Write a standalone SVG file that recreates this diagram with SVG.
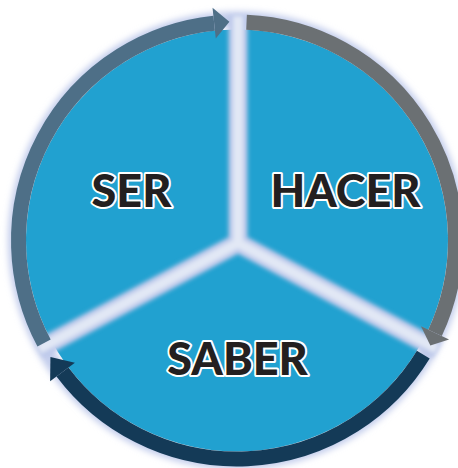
<svg xmlns="http://www.w3.org/2000/svg" width="458" height="468" viewBox="0 0 458 468">
  <defs>
    <filter id="blur3" x="-20%" y="-20%" width="140%" height="140%">
      <feGaussianBlur stdDeviation="3"/>
    </filter>
    <filter id="blur2" x="-20%" y="-20%" width="140%" height="140%">
      <feGaussianBlur stdDeviation="2"/>
    </filter>
    <style>
      .sector { fill: #21a1d0; }
      .label { font-family: Lato, "Open Sans", "Liberation Sans", sans-serif; font-weight: 900; font-size: 45px; fill: #231f20; stroke: #ffffff; stroke-width: 4; stroke-linejoin: round; paint-order: stroke; text-anchor: middle; }
      .band { fill: none; stroke-width: 15; stroke-linecap: butt; }
    </style>
  </defs>
  <rect width="458" height="468" fill="#ffffff"/>
  <!-- outer glow -->
  <circle cx="237" cy="240.5" r="221" fill="none" stroke="#c3cdec" stroke-width="16" filter="url(#blur3)"/>

  <g id="ser">
    <path class="sector" d="M238,243 L50.7,339.56 A211,211 0 0 1 238,29.5 Z"/>
  </g>
  <g id="hacer">
    <path class="sector" d="M238,243 L238,29.5 A211,211 0 0 1 423.3,339.56 Z"/>
  </g>
  <g id="saber">
    <path class="sector" d="M238,243 L423.3,339.56 A211,211 0 0 1 50.7,339.56 Z"/>
  </g>

  <!-- gaps between sectors -->
  <g id="gaps" stroke-linecap="butt">
    <g filter="url(#blur2)" stroke="#bcc8ea" stroke-width="19">
      <line x1="238" y1="243" x2="238" y2="16"/>
      <line x1="238" y1="243" x2="437" y2="349"/>
      <line x1="238" y1="243" x2="39" y2="349"/>
    </g>
    <g filter="url(#blur2)" stroke="#e2e8f5" stroke-width="10">
      <line x1="238" y1="243" x2="238" y2="16"/>
      <line x1="238" y1="243" x2="437" y2="349"/>
      <line x1="238" y1="243" x2="39" y2="349"/>
    </g>
  </g>

  <g id="connectors">
    <g id="arrow-ser-top">
      <path class="band" stroke="#4e6f87" d="M44.08,343.08 A218.5,218.5 0 0 1 214.16,23.2"/>
      <polygon fill="#4e6f87" points="215.78,38.61 212.54,7.78 229.36,21.63"/>
    </g>
    <g id="arrow-hacer-right">
      <path class="band" stroke="#6b7073" d="M246.53,22.21 A218.5,218.5 0 0 1 435.03,332.84"/>
      <polygon fill="#6b7073" points="420.98,326.29 449.07,339.39 430.34,345.48"/>
    </g>
    <g id="arrow-saber-bottom">
      <path class="band" stroke="#143a57" d="M423.3,354.67 A218.5,218.5 0 0 1 62.5,372"/>
      <polygon fill="#143a57" points="74.88,362.67 50.12,381.33 50.43,357.08"/>
    </g>
  </g>

  <text class="label" x="131.5" y="207">SER</text>
  <text class="label" x="345.5" y="207">HACER</text>
  <text class="label" x="237.5" y="375">SABER</text>
</svg>
